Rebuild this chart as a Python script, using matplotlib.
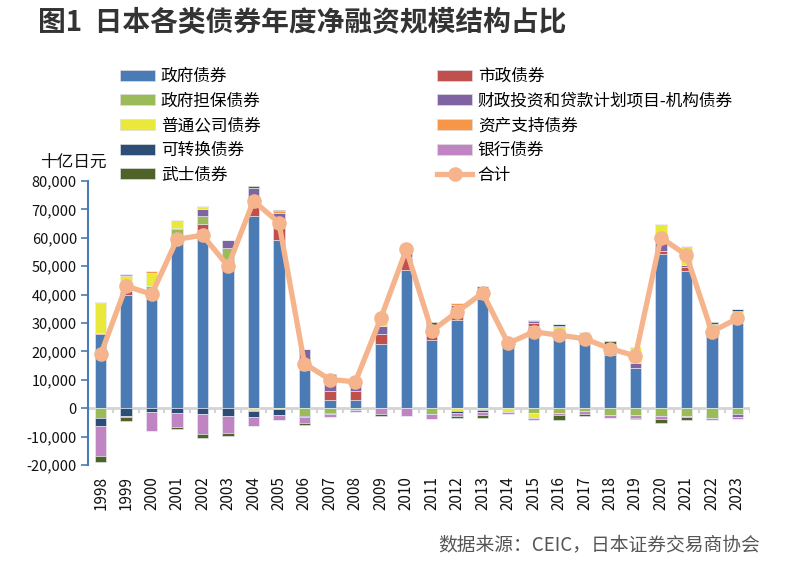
import numpy as np
import matplotlib
matplotlib.use("Agg")
import matplotlib.pyplot as plt
from matplotlib.patches import Patch
from matplotlib.lines import Line2D
from matplotlib.ticker import FuncFormatter

plt.rcParams['font.family'] = ['Noto Sans CJK SC', 'DejaVu Sans']

years = [str(y) for y in range(1998, 2024)]

gov = [26300, 40000, 38600, 58000, 62900, 50400, 67700, 59200, 13600, 2800, 2800, 22500, 48600,
       23900, 31000, 38600, 23500, 29000, 26900, 24000, 18700, 14000, 54200, 48200, 26300, 30000]
municipal = [300, 1200, 1200, 0, 2100, 1800, 4000, 4100, 3300, 3300, 3300, 3800, 4500,
             3000, 4300, 2900, 0, 1100, 0, 0, 1200, 0, 1100, 1500, 0, 0]
gov_guar = [-3600, 0, 3200, 5000, 2600, 4200, 1500, 1700, -2600, -1600, -700, 0, 0,
            -1900, 0, 0, 0, -1600, -1600, -1100, -2500, -2500, -2800, -2700, -3600, -2200]
filp = [0, 0, 0, 500, 2500, 2700, 4500, 3800, 4100, 3800, 2600, 2700, 3100,
        2300, 1200, 1400, 0, 600, 800, 0, 2000, 2000, 2900, 800, 0, -1000]
corporate = [10500, 5400, 4700, 2600, 800, 0, -700, -400, 0, 400, 500, 4100, 600,
             0, -1100, -500, -1300, -2000, 1300, 2900, 800, 5400, 6600, 6500, 3300, 4300]
abs_ = [300, 500, 500, 0, 400, 300, -200, 500, 0, 0, 0, 0, 0,
        0, 400, 0, 0, 0, 0, 0, 0, 0, 0, 0, 0, 0]
convertible = [-2600, -2700, -1200, -1600, -2200, -2700, -2300, -2100, -500, -600, 0, 0, 500,
               0, -500, -800, 0, 400, 600, 0, 0, 0, 0, 0, 0, 800]
bank = [-10700, -500, -6900, -5000, -6900, -6200, -3200, -1600, -2000, -800, -800, -2100, -2700,
        -1800, -1200, -1200, -900, -600, -900, -800, -800, -800, -900, -500, -600, -500]
samurai = [-2000, -1200, 0, -700, -1500, -800, 500, 400, -700, 1700, 500, -600, 0,
           1200, -500, -800, 400, 0, -1600, -700, 1000, -600, -1600, -1000, 800, 0]
total = [19000, 43000, 40100, 59500, 60900, 50000, 73000, 65300, 15700, 10100, 9300, 31700, 55900,
         27200, 33900, 40600, 22800, 26900, 25700, 24500, 21000, 18400, 60100, 53900, 26900, 31600]

series_names = ['政府债券', '市政债券', '政府担保债券', '财政投资和贷款计划项目-机构债券',
                '普通公司债券', '资产支持债券', '可转换债券', '银行债券', '武士债券']
series_vals = [gov, municipal, gov_guar, filp, corporate, abs_, convertible, bank, samurai]
colors = ['#4a7bb5', '#c0504d', '#9bbb59', '#8064a2', '#ebe83c', '#f79646', '#2c4d75', '#c084c2', '#4f6228']
total_name = '合计'
line_color = '#f5b48c'

fig = plt.figure(figsize=(7.92, 5.63), dpi=100)
fig.patch.set_facecolor('white')
ax = fig.add_axes([88/792, 1-465/563, (750-88)/792, (465-181)/563])

x = np.arange(len(years))
pos_bottom = np.zeros(len(years))
neg_bottom = np.zeros(len(years))
handles = []
for name, vals, c in zip(series_names, series_vals, colors):
    v = np.array(vals, dtype=float)
    p = np.where(v > 0, v, 0)
    n = np.where(v < 0, v, 0)
    ax.bar(x, p, bottom=pos_bottom, width=0.45, color=c, edgecolor='#e8eef6', linewidth=0.4, zorder=2)
    ax.bar(x, n, bottom=neg_bottom, width=0.45, color=c, edgecolor='#e8eef6', linewidth=0.4, zorder=2)
    pos_bottom += p
    neg_bottom += n
    handles.append(Patch(facecolor=c, edgecolor='#dddddd', linewidth=0.5, label=name))

ax.plot(x, total, color=line_color, lw=3.8, marker='o', markersize=9.5,
        markerfacecolor=line_color, markeredgecolor=line_color, zorder=4, solid_capstyle='round')
line_handle = Line2D([], [], color=line_color, lw=3.8, marker='o', markersize=9.5, label=total_name)

ax.set_xlim(-0.5, len(years) - 0.5)
ax.set_ylim(-20000, 80000)
ax.set_yticks(np.arange(-20000, 80001, 10000))
ax.yaxis.set_major_formatter(FuncFormatter(lambda v, p: f'{int(v):,}'))
ax.set_xticks(x)
ax.set_xticklabels(years, rotation=90, fontsize=11, color='#111111')
ax.tick_params(axis='x', length=0, pad=8)
ax.tick_params(axis='y', length=5, width=1.2, color='#4a7bb5', labelsize=10.5, direction='out', pad=3,
               labelcolor='#111111')

for s in ['top', 'right', 'bottom']:
    ax.spines[s].set_visible(False)
ax.spines['left'].set_color('#4a7bb5')
ax.spines['left'].set_linewidth(1.5)

# zero line with category tick marks
ax.axhline(0, color='#d4d4d4', lw=2, zorder=1)
ax.vlines(np.arange(-0.5, len(years)), -1800, 0, color='#d4d4d4', lw=1.5, zorder=1)

# y-axis unit label
fig.text(40/792, 1-162/563, '十亿日元', fontsize=12, ha='left', va='center', color='#111111')

# legends
leg_kw = dict(frameon=False, loc='upper left', fontsize=12, handlelength=2.1, handleheight=0.62,
              handletextpad=0.35, labelspacing=0.46, borderpad=0, borderaxespad=0)
leg1 = fig.legend(handles=[handles[i] for i in [0, 2, 4, 6, 8]], bbox_to_anchor=(120/792, 1-68/563), **leg_kw)
leg2 = fig.legend(handles=[handles[i] for i in [1, 3, 5, 7]] + [line_handle],
                  bbox_to_anchor=(437/792, 1-68/563), **leg_kw)

# title and source
fig.text(38/792, 1-23/563, '图1  日本各类债券年度净融资规模结构占比', fontsize=20, fontweight='bold',
         ha='left', va='center', color='#333333')
fig.text(760/792, 1-545/563, '数据来源：CEIC，日本证券交易商协会', fontsize=13.5,
         ha='right', va='center', color='#555555')

fig.savefig('out.png', dpi=100)
